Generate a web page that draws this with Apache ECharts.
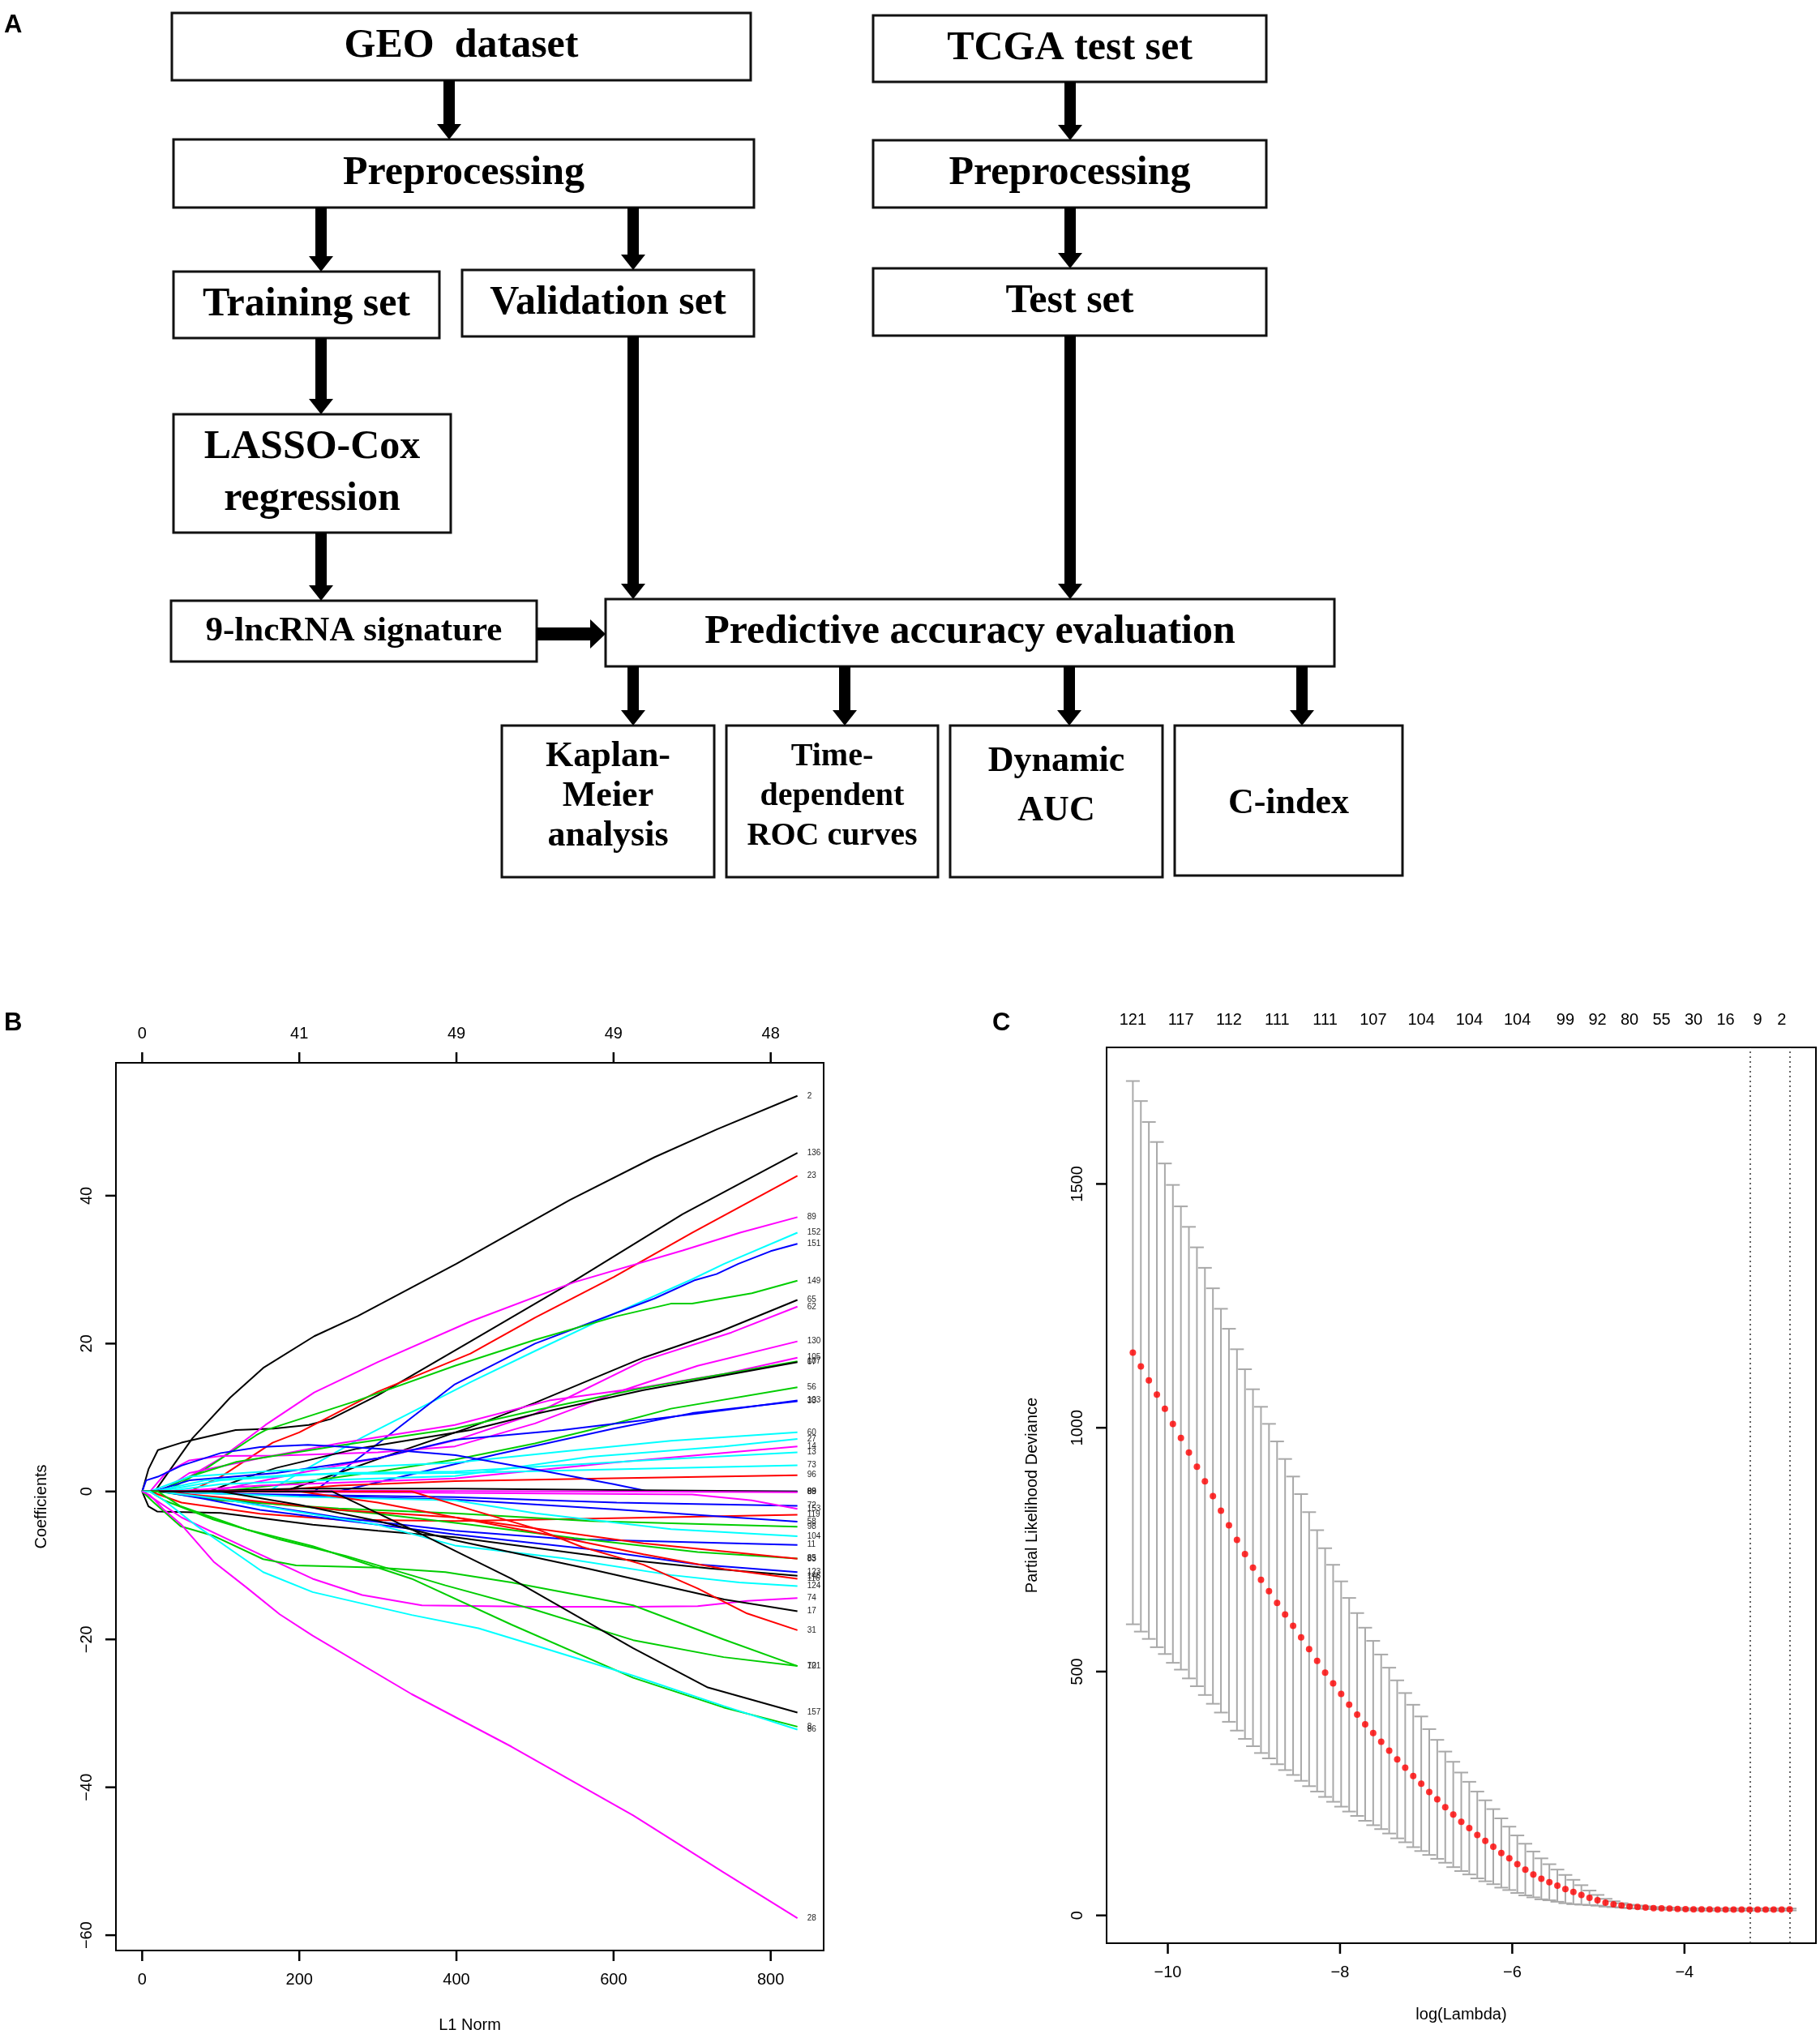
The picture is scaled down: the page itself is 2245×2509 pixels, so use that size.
<!DOCTYPE html>
<html>
<head>
<meta charset="utf-8">
<title>LASSO-Cox workflow</title>
<script src="https://cdn.jsdelivr.net/npm/echarts@6/dist/echarts.min.js"></script>
<style>
  html, body { margin: 0; padding: 0; background: #fff; }
  #chart { width: 2245px; height: 2509px; }
</style>
</head>
<body>
<div id="chart"></div>
<script>
// ---- panel B: coefficient paths (L1 norm, coefficient) ----
const bL1Ticks = [0, 200, 400, 600, 800];
const bTopLabels = ['0', '41', '49', '49', '48'];
const bYTicks = [-60, -40, -20, 0, 20, 40];

const pathLabels = ['2', '136', '23', '89', '152', '151', '149', '65', '62', '130', '105', '107', '67', '56',
  '103', '33', '60', '27', '14', '13', '73', '96', '88', '69', '99', '72', '153', '119', '58', '98', '104',
  '11', '85', '83', '123', '146', '116', '124', '74', '17', '31', '121', '70', '157', '8', '86', '28'];

// index into R default palette: black, red, green3, blue, cyan, magenta
const pathColorIdx = [0, 0, 1, 5, 4, 3, 2, 0, 5, 5, 5, 2, 0, 2,
  3, 3, 4, 4, 5, 4, 4, 1, 3, 0, 5, 3, 5, 1, 3, 2, 4,
  3, 2, 1, 3, 0, 1, 4, 5, 0, 1, 2, 2, 0, 2, 4, 5];

const pathPoints = [
  [[0,0],[16,0],[64,7.2],[112,12.7],[154,16.7],[219,21],[274,23.7],[400,30.8],[544,39.4],[652,45.2],[732,49],[834,53.5]],
  [[0,0],[8,3],[20,5.6],[50,6.6],[119,8.3],[167,8.5],[212,9],[240,9.8],[300,13],[418,20.3],[550,28.5],[688,37.5],[760,41.6],[834,45.8]],
  [[0,0],[60,0],[100,2],[166,6.6],[200,8],[300,13.5],[418,18.65],[500,23.5],[600,29],[700,35],[834,42.7]],
  [[0,0],[20,0],[60,2],[100,4.5],[137,7.4],[157,9],[219,13.4],[300,17.5],[418,23],[550,28.3],[688,32.6],[761,35],[834,37.1]],
  [[0,0],[160,0],[200,2.5],[280,7.3],[418,14.8],[500,19],[600,24],[700,28.7],[741,30.8],[834,35]],
  [[0,0],[219,0],[304,6.8],[398,14.5],[500,20],[652,26.1],[704,28.6],[731,29.4],[759,30.8],[800,32.5],[834,33.5]],
  [[0,0],[30,0],[80,3],[145,7.6],[157,8.3],[274,12.3],[398,17],[500,20.5],[604,23.7],[673,25.4],[700,25.4],[776,26.8],[834,28.5]],
  [[0,0],[180,0],[250,2.5],[330,5.5],[418,8.7],[500,12],[638,18.1],[735,21.6],[834,25.9]],
  [[0,0],[90,0],[200,2.5],[300,4.5],[398,6.9],[500,10.5],[638,17.7],[750,21.5],[834,25]],
  [[0,0],[10,0],[30,2.5],[60,4.2],[100,4.8],[175,4.85],[300,5.3],[398,6.1],[500,9.2],[604,13.4],[707,17],[834,20.3]],
  [[0,0],[25,0],[60,2.5],[150,4.5],[250,6.5],[398,9],[518,12.3],[638,14.1],[741,15.9],[834,18.1]],
  [[0,0],[20,0],[60,2],[120,4],[250,6.2],[398,8.5],[501,11],[638,14],[834,17.6]],
  [[0,0],[85,0],[130,1.8],[171,3.2],[274,5.8],[418,8.3],[501,10.5],[638,13.7],[834,17.5]],
  [[0,0],[100,0],[200,1.2],[300,2.7],[398,4.3],[500,6.5],[570,8.3],[673,11.2],[834,14.1]],
  [[0,0],[15,0],[60,1.5],[171,2.5],[300,4.5],[398,7],[535,8.3],[673,10.1],[741,11],[834,12.3]],
  [[0,0],[250,0],[350,2.5],[450,5],[600,8.5],[700,10.6],[834,12.2]],
  [[0,0],[10,0],[60,2],[170,2.8],[398,3.9],[535,5.4],[673,6.85],[834,8]],
  [[0,0],[30,0],[100,1],[250,1.6],[398,2.1],[570,4.7],[741,6.1],[834,7.1]],
  [[0,0],[40,0],[150,0.8],[398,1.76],[604,3.94],[834,6.1]],
  [[0,0],[20,0],[100,1.5],[250,2.5],[398,2.7],[638,4.2],[834,5.3]],
  [[0,0],[15,0],[80,1.5],[200,2.3],[398,2.5],[600,3],[834,3.55]],
  [[0,0],[150,0],[250,0.8],[398,1.4],[600,1.8],[834,2.2]],
  [[0,0],[5,1.5],[20,2],[50,3.5],[100,5.2],[150,6],[211,6.3],[300,5.8],[399,4.9],[500,3],[600,1],[645,0],[834,0]],
  [[0,0],[60,0],[200,0.4],[400,0.4],[600,0.2],[834,0]],
  [[0,0],[100,0],[300,0.1],[600,0],[834,-0.1]],
  [[0,0],[10,0],[100,-0.3],[398,-0.77],[604,-1.5],[834,-1.94]],
  [[0,0],[50,0],[300,-0.1],[398,-0.2],[700,-0.4],[776,-1.2],[834,-2.34]],
  [[0,0],[10,0],[50,-1.5],[150,-3],[250,-3.8],[398,-4],[600,-3.6],[834,-3.15]],
  [[0,0],[40,0],[200,-0.6],[398,-1.1],[600,-2.4],[834,-4.07]],
  [[0,0],[20,0],[100,-1.2],[250,-2.3],[398,-2.95],[570,-4],[834,-4.76]],
  [[0,0],[30,0],[200,-0.7],[398,-1.2],[501,-2.95],[673,-5.1],[834,-6.05]],
  [[0,0],[30,0],[100,-1],[250,-3.5],[398,-5.3],[535,-6.4],[834,-7.22]],
  [[0,0],[20,0],[150,-1.5],[300,-3],[418,-4.5],[550,-6.3],[707,-8.2],[834,-9.07]],
  [[0,0],[20,0],[100,-0.8],[250,-2.5],[398,-3.5],[535,-5.5],[638,-7],[834,-9.1]],
  [[0,0],[25,0],[80,-1],[150,-2.5],[217,-3.4],[300,-4.5],[398,-5.8],[570,-7.8],[707,-9.85],[834,-10.9]],
  [[0,0],[8,-2],[19,-2.7],[100,-2.9],[217,-4.5],[300,-5.3],[398,-6.2],[604,-9.1],[723,-10.4],[834,-11.4]],
  [[0,0],[200,0],[300,-1.5],[398,-3.5],[500,-5.5],[638,-8.5],[741,-10.5],[834,-11.8]],
  [[0,0],[20,0],[100,-1],[200,-2.8],[300,-4.5],[398,-7.3],[535,-9],[673,-11.3],[760,-12.3],[834,-12.8]],
  [[0,0],[15,-1],[50,-3.5],[100,-6],[150,-8.5],[217,-11.8],[280,-14],[356,-15.4],[500,-15.6],[625,-15.6],[707,-15.5],[770,-14.8],[834,-14.4]],
  [[0,0],[100,0],[200,-1.8],[300,-4],[398,-6.6],[570,-10.5],[741,-14.6],[834,-16.2]],
  [[0,0],[343,0],[420,-2.5],[500,-5],[560,-7.5],[638,-9.9],[707,-13.1],[770,-16.5],[834,-18.75]],
  [[0,0],[15,-1.5],[49,-4.7],[91,-6],[154,-9.15],[196,-10],[301,-10.3],[386,-10.9],[470,-12.3],[625,-15.4],[740,-20],[834,-23.6]],
  [[0,0],[10,0],[28,-1.2],[91,-3.8],[175,-6.5],[259,-8.7],[386,-12.7],[500,-16],[625,-20.1],[740,-22.4],[834,-23.6]],
  [[0,0],[242,0],[350,-5.5],[470,-11.8],[625,-21.2],[720,-26.5],[834,-29.9]],
  [[0,0],[20,0],[49,-2],[133,-5.15],[217,-7.4],[343,-11.8],[470,-18],[625,-25.2],[740,-29.2],[834,-31.8]],
  [[0,0],[10,0],[28,-1.2],[70,-4.7],[112,-7.8],[154,-10.9],[217,-13.6],[343,-16.7],[428,-18.5],[512,-21.2],[625,-24.9],[740,-29],[834,-32.2]],
  [[0,0],[10,-0.5],[28,-2.5],[50,-4.5],[91,-9.5],[133,-13],[175,-16.6],[217,-19.5],[343,-27.4],[470,-34.5],[625,-43.8],[740,-51.5],[834,-57.7]]
];

// ---- panel C: cross-validation curve ----
const logLambda = [-10.406, -10.313, -10.220, -10.127, -10.034, -9.941, -9.848, -9.755, -9.662, -9.569,
  -9.476, -9.383, -9.290, -9.197, -9.104, -9.011, -8.918, -8.825, -8.731, -8.638,
  -8.545, -8.452, -8.359, -8.266, -8.173, -8.080, -7.987, -7.894, -7.801, -7.708,
  -7.615, -7.522, -7.429, -7.336, -7.243, -7.150, -7.057, -6.964, -6.871, -6.778,
  -6.685, -6.592, -6.499, -6.406, -6.313, -6.220, -6.127, -6.034, -5.941, -5.848,
  -5.755, -5.662, -5.569, -5.476, -5.383, -5.290, -5.197, -5.103, -5.010, -4.917,
  -4.824, -4.731, -4.638, -4.545, -4.452, -4.359, -4.266, -4.173, -4.080, -3.987,
  -3.894, -3.801, -3.708, -3.615, -3.522, -3.429, -3.336, -3.243, -3.150, -3.057,
  -2.964, -2.871, -2.778];
const cvMean = [1154, 1126, 1097, 1068, 1039, 1008, 979, 949,
  920, 890, 860, 830, 800, 770, 741, 713, 688, 665,
  641, 617, 594, 570, 546, 522, 498, 476, 454, 432,
  412, 392, 374, 356, 338, 320, 303, 286, 270, 253,
  238, 222, 207, 192, 179, 165, 153, 141,
  128, 117, 105, 94, 84, 75, 68, 61, 54, 48,
  42, 36, 31, 26, 23, 20.5, 18.3, 17.2, 16.1, 15,
  14.4, 13.9, 13.3, 12.8, 12.6, 12.4, 12.2, 12.1, 12, 12,
  12, 12, 12, 12, 12, 12.1, 12.2];
const cvSd = [557, 544, 530, 518, 503, 490, 475, 463,
  450, 438, 426, 414, 403, 391, 379, 366, 355, 343,
  331, 319, 306, 294, 281, 268, 255, 243, 231, 219,
  208, 198, 189, 179, 170, 162, 153, 146, 138, 129,
  122, 114, 108, 101, 95, 89, 83, 77,
  71, 65, 59, 53, 47, 42, 37, 33, 29, 25,
  20, 15, 11, 8, 6, 4.5, 3.5, 3, 2.5, 2,
  2, 2, 2, 2, 2, 2, 2, 2, 2, 2,
  2, 2, 2, 2, 2, 2, 2];
const nzeroIdx = [0, 6, 12, 18, 24, 30, 36, 42, 48, 54, 58, 62, 66, 70, 74, 78, 81];
const nzeroLabels = ['121', '117', '112', '111', '111', '107', '104', '104', '104', '99', '92', '80', '55', '30', '16', '9', '2'];
const lambdaMinIdx = 77;
const lambda1seIdx = 82;
const cXTicks = [-10, -8, -6, -4];
const cYTicks = [0, 500, 1000, 1500];

const PALETTE = ['#000000', '#FF0000', '#00CD00', '#0000FF', '#00FFFF', '#FF00FF'];
const SANS = '"Liberation Sans", Arial, Helvetica, sans-serif';
const SERIF = '"Liberation Serif", "Times New Roman", serif';
const minus = v => String(v).replace('-', '\u2212');

// ---- panel A: flow chart drawn as graphic elements ----
function box(x, y, w, h, text, fs, lh, dy) {
  return [
    { type: 'rect', shape: { x: x, y: y, width: w, height: h },
      style: { fill: '#fff', stroke: '#111', lineWidth: 3 } },
    { type: 'text', style: { x: x + w / 2, y: y + h / 2 + (dy || 0), text: text, align: 'center',
      verticalAlign: 'middle', fontFamily: SERIF, fontWeight: 'bold', fontSize: fs,
      lineHeight: lh || fs, fill: '#000' } }
  ];
}
function arrowDown(x, y1, y2) {
  return [
    { type: 'rect', shape: { x: x - 7, y: y1, width: 14, height: y2 - y1 - 16 }, style: { fill: '#000' } },
    { type: 'polygon', shape: { points: [[x - 15, y2 - 19], [x + 15, y2 - 19], [x, y2]] }, style: { fill: '#000' } }
  ];
}
function arrowRight(x1, x2, y) {
  return [
    { type: 'rect', shape: { x: x1, y: y - 8, width: x2 - x1 - 16, height: 16 }, style: { fill: '#000' } },
    { type: 'polygon', shape: { points: [[x2 - 19, y - 18], [x2 - 19, y + 18], [x2, y]] }, style: { fill: '#000' } }
  ];
}

const flow = [].concat(
  box(212, 16, 714, 83, 'GEO  dataset', 50),
  box(214, 172, 716, 84, 'Preprocessing', 50),
  box(214, 335, 328, 82, 'Training set', 50),
  box(570, 333, 360, 82, 'Validation set', 50),
  box(214, 511, 342, 146, 'LASSO-Cox\nregression', 50, 64),
  box(1077, 19, 485, 82, 'TCGA test set', 50),
  box(1077, 173, 485, 83, 'Preprocessing', 50),
  box(1077, 331, 485, 83, 'Test set', 50),
  box(211, 741, 451, 75, '9-lncRNA signature', 43),
  box(747, 739, 899, 83, 'Predictive accuracy evaluation', 50),
  box(619, 895, 262, 187, 'Kaplan-\nMeier\nanalysis', 44, 49, -6),
  box(896, 895, 261, 187, 'Time-\ndependent\nROC curves', 40, 49, -6),
  box(1172, 895, 262, 187, 'Dynamic\nAUC', 44, 61, -18),
  box(1449, 895, 281, 185, 'C-index', 44, 44, 4),
  arrowDown(554, 99, 172),
  arrowDown(396, 256, 335),
  arrowDown(781, 256, 333),
  arrowDown(396, 417, 511),
  arrowDown(396, 657, 741),
  arrowDown(781, 415, 739),
  arrowDown(1320, 101, 173),
  arrowDown(1320, 256, 331),
  arrowDown(1320, 414, 739),
  arrowDown(781, 822, 895),
  arrowDown(1042, 822, 895),
  arrowDown(1319, 822, 895),
  arrowDown(1606, 822, 895),
  arrowRight(662, 747, 782)
);

const letters = [['A', 5, 31], ['B', 5, 1262], ['C', 1224, 1262]].map(l => ({
  type: 'text', style: { x: l[1], y: l[2], text: l[0], verticalAlign: 'middle', fontFamily: SANS,
    fontWeight: 'bold', fontSize: 31, fill: '#000' }
}));

const bTopMap = {};
bL1Ticks.forEach((v, i) => { bTopMap[v] = bTopLabels[i]; });
const cTopMap = {};
nzeroIdx.forEach((k, j) => { cTopMap[logLambda[k].toFixed(3)] = nzeroLabels[j]; });

const axLine = { show: true, onZero: false, lineStyle: { color: '#000', width: 2 } };
const noLine = { show: false, onZero: false };
const labelStyle = { color: '#000', fontSize: 20, fontFamily: SANS, margin: 26 };
const nameStyle = { color: '#000', fontSize: 20, fontFamily: SANS };
const TICK = 13;

// outward tick marks, placed through the axis scales (api.coord)
function tickSeries(xi, yi, data, sides) {
  return {
    type: 'custom', xAxisIndex: xi, yAxisIndex: yi, silent: true, clip: false, z: 10,
    data: data,
    renderItem: function (params, api) {
      const cs = params.coordSys;
      const p = api.coord([api.value(0), api.value(1)]);
      const st = { stroke: '#000', lineWidth: 2.5 };
      const kids = [];
      if (sides.indexOf('b') >= 0) kids.push({ type: 'line', shape: { x1: p[0], y1: cs.y + cs.height, x2: p[0], y2: cs.y + cs.height + TICK }, style: st });
      if (sides.indexOf('t') >= 0) kids.push({ type: 'line', shape: { x1: p[0], y1: cs.y, x2: p[0], y2: cs.y - TICK }, style: st });
      if (sides.indexOf('l') >= 0) kids.push({ type: 'line', shape: { x1: cs.x, y1: p[1], x2: cs.x - TICK, y2: p[1] }, style: st });
      return { type: 'group', children: kids };
    }
  };
}

const pathSeries = pathPoints.map((pts, i) => ({
  type: 'line',
  name: pathLabels[i],
  xAxisIndex: 0,
  yAxisIndex: 0,
  data: pts,
  symbol: 'none',
  showSymbol: false,
  silent: true,
  lineStyle: { color: PALETTE[pathColorIdx[i]], width: 2 },
  itemStyle: { color: PALETTE[pathColorIdx[i]] },
  endLabel: { show: true, formatter: '{a}', color: '#222', fontSize: 10, fontFamily: SANS, distance: 12 }
}));

const barData = logLambda.map((x, i) => [x, cvMean[i] - cvSd[i], cvMean[i] + cvSd[i]]);
const meanData = logLambda.map((x, i) => [x, cvMean[i]]);

const option = {
  animation: false,
  backgroundColor: '#fff',
  textStyle: { fontFamily: SANS },
  graphic: { elements: flow.concat(letters) },
  grid: [
    { left: 143, top: 1311, width: 873, height: 1101, show: true, borderColor: '#000', borderWidth: 2, backgroundColor: 'transparent' },
    { left: 1365, top: 1292, width: 875, height: 1105, show: true, borderColor: '#000', borderWidth: 2, backgroundColor: 'transparent' }
  ],
  xAxis: [
    { type: 'value', gridIndex: 0, min: -33.4, max: 867.4, position: 'bottom',
      axisLine: axLine, splitLine: { show: false }, axisTick: { show: false },
      axisLabel: Object.assign({ customValues: bL1Ticks, formatter: v => String(v) }, labelStyle),
      name: 'L1 Norm', nameLocation: 'middle', nameGap: 82, nameTextStyle: nameStyle },
    { type: 'value', gridIndex: 0, min: -33.4, max: 867.4, position: 'top',
      axisLine: axLine, splitLine: { show: false }, axisTick: { show: false },
      axisLabel: Object.assign({ customValues: bL1Ticks, formatter: v => bTopMap[v] }, labelStyle) },
    { type: 'value', gridIndex: 1, min: -10.711, max: -2.473, position: 'bottom',
      axisLine: axLine, splitLine: { show: false }, axisTick: { show: false },
      axisLabel: Object.assign({ customValues: cXTicks, formatter: minus }, labelStyle),
      name: 'log(Lambda)', nameLocation: 'middle', nameGap: 78, nameTextStyle: nameStyle },
    { type: 'value', gridIndex: 1, min: -10.711, max: -2.473, position: 'top',
      axisLine: noLine, splitLine: { show: false }, axisTick: { show: false },
      axisLabel: Object.assign({ customValues: nzeroIdx.map(k => logLambda[k]),
        formatter: v => cTopMap[Number(v).toFixed(3)] || '' }, labelStyle, { margin: 24 }) }
  ],
  yAxis: [
    { type: 'value', gridIndex: 0, min: -62.07, max: 57.97, position: 'left',
      axisLine: axLine, splitLine: { show: false }, axisTick: { show: false },
      axisLabel: Object.assign({ customValues: bYTicks, formatter: minus, rotate: 90 }, labelStyle),
      name: 'Coefficients', nameLocation: 'middle', nameGap: 82, nameRotate: 90, nameTextStyle: nameStyle },
    { type: 'value', gridIndex: 1, min: -57, max: 1780, position: 'left',
      axisLine: axLine, splitLine: { show: false }, axisTick: { show: false },
      axisLabel: Object.assign({ customValues: cYTicks, formatter: v => String(v), rotate: 90 }, labelStyle),
      name: 'Partial Likelihood Deviance', nameLocation: 'middle', nameGap: 82, nameRotate: 90, nameTextStyle: nameStyle }
  ],
  series: pathSeries.concat([
    tickSeries(0, 0, bL1Ticks.map(v => [v, 0]), 'bt'),
    tickSeries(0, 0, bYTicks.map(v => [0, v]), 'l'),
    tickSeries(2, 1, cXTicks.map(v => [v, 0]), 'b'),
    tickSeries(2, 1, cYTicks.map(v => [-10, v]), 'l'),
    {
      type: 'custom',
      xAxisIndex: 2,
      yAxisIndex: 1,
      silent: true,
      data: barData,
      encode: { x: 0, y: [1, 2] },
      renderItem: function (params, api) {
        const x = api.value(0);
        const lo = api.coord([x, api.value(1)]);
        const hi = api.coord([x, api.value(2)]);
        const hw = 8.5;
        const st = { stroke: '#A9A9A9', lineWidth: 2 };
        return {
          type: 'group',
          children: [
            { type: 'line', shape: { x1: lo[0], y1: lo[1], x2: hi[0], y2: hi[1] }, style: st },
            { type: 'line', shape: { x1: hi[0] - hw, y1: hi[1], x2: hi[0] + hw, y2: hi[1] }, style: st },
            { type: 'line', shape: { x1: lo[0] - hw, y1: lo[1], x2: lo[0] + hw, y2: lo[1] }, style: st }
          ]
        };
      }
    },
    {
      type: 'scatter',
      xAxisIndex: 2,
      yAxisIndex: 1,
      silent: true,
      data: meanData,
      symbol: 'circle',
      symbolSize: 8,
      itemStyle: { color: '#FF0000' },
      z: 5,
      markLine: {
        silent: true,
        symbol: ['none', 'none'],
        label: { show: false },
        lineStyle: { color: '#333', width: 1.5, type: [2, 4] },
        data: [{ xAxis: logLambda[lambdaMinIdx] }, { xAxis: logLambda[lambda1seIdx] }]
      }
    }
  ])
};

const chart = echarts.init(document.getElementById('chart'), null, { renderer: 'canvas' });
chart.setOption(option);
window.addEventListener('resize', () => chart.resize());
</script>
</body>
</html>
